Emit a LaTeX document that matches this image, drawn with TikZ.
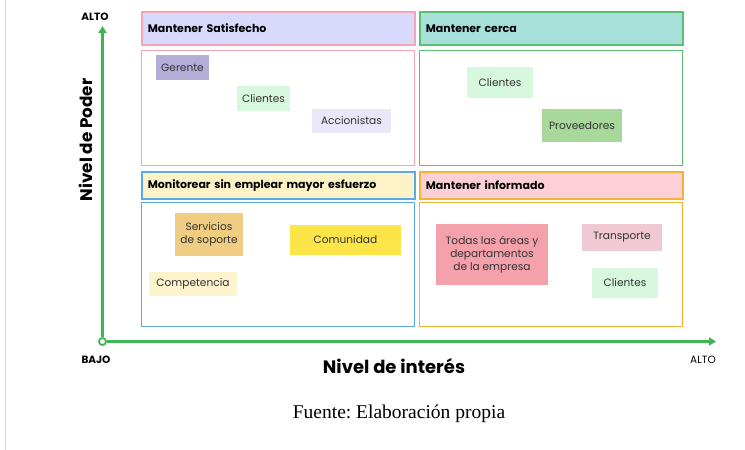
\documentclass[tikz,border=0pt]{standalone}
\usepackage{fontspec}
\setmainfont{Liberation Serif}
\newfontfamily\uisans{Poppins}
\usetikzlibrary{arrows.meta}
\frenchspacing
\definecolor{axisgreen}{HTML}{3DB552}
\definecolor{pinkline}{HTML}{F2A7B6}
\definecolor{greenline}{HTML}{5CC072}
\definecolor{blueline}{HTML}{5AAAE8}
\definecolor{orangeline}{HTML}{F5B233}
\definecolor{lavhead}{HTML}{D9D9FB}
\definecolor{tealhead}{HTML}{A6E0D9}
\definecolor{yellowhead}{HTML}{FDF3C6}
\definecolor{pinkhead}{HTML}{FDD0D8}
\definecolor{cGerente}{HTML}{B4ADD8}
\definecolor{cCliente}{HTML}{D8F8DD}
\definecolor{cAccion}{HTML}{E9E7F8}
\definecolor{cProv}{HTML}{A9D99A}
\definecolor{cServ}{HTML}{F0CD82}
\definecolor{cComun}{HTML}{FCE449}
\definecolor{cCompet}{HTML}{FDF4CD}
\definecolor{cTodas}{HTML}{F4A1AB}
\definecolor{cTrans}{HTML}{F0C9D4}
\definecolor{notetext}{HTML}{333333}
\tikzset{
  quadhead/.style={draw=#1, line width=1.6pt, anchor=north west, minimum height=33pt,
    text width=261pt, inner xsep=6pt, align=left, font=\uisans\bfseries\fontsize{11}{12}\selectfont, text=black},
  quadbody/.style={draw=#1, line width=1.3pt, fill=white, anchor=north west, inner sep=0pt},
  note/.style={fill=#1, inner sep=0pt, text=notetext, font=\uisans\fontsize{10.6}{13}\selectfont, align=center},
  axislabel/.style={font=\uisans\bfseries\fontsize{10.5}{11}\selectfont, text=black},
}
\begin{document}
\begin{tikzpicture}[x=1pt,y=-1pt]
\useasboundingbox (0,0) rectangle (745,450);
\fill[white] (0,0) rectangle (745,450);
\coordinate (gt) at (5.5,0);
\coordinate (gb) at (5.5,450);
\draw[black!15, line width=1pt] (gt) -- (gb);

% quadrant headers
\node[quadhead=pinkline, fill=lavhead, text width=261pt] (h1) at (141,11) {Mantener Satisfecho};
\node[quadhead=greenline, fill=tealhead, text width=251pt] (h2) at (419,11) {Mantener cerca};
\node[quadhead=blueline, fill=yellowhead, text width=261pt, minimum height=27pt] (h3) at (141,171) {Monitorear sin emplear mayor esfuerzo};
\node[quadhead=orangeline, fill=pinkhead, text width=251pt, minimum height=27pt] (h4) at (419,171) {Mantener informado};

% quadrant bodies
\node[quadbody=pinkline, minimum width=273pt, minimum height=115pt] (b1) at (141,50) {};
\node[quadbody=greenline, minimum width=263pt, minimum height=115pt] (b2) at (419,50) {};
\node[quadbody=blueline, minimum width=273pt, minimum height=124pt] (b3) at (141,202) {};
\node[quadbody=orangeline, minimum width=263pt, minimum height=124pt] (b4) at (419,202) {};

% notes
\node[note=cGerente, minimum width=53pt, minimum height=25pt] (n1) at (182.5,67.5) {Gerente};
\node[note=cCliente, minimum width=53pt, minimum height=25pt] (n2) at (263.5,98.5) {Clientes};
\node[note=cAccion, minimum width=79pt, minimum height=24pt] (n3) at (351.5,121) {Accionistas};
\node[note=cCliente, minimum width=66pt, minimum height=31pt] (n4) at (500,82.5) {Clientes};
\node[note=cProv, minimum width=80pt, minimum height=33pt] (n5) at (582,125.5) {Proveedores};
\node[note=cServ, minimum width=68pt, minimum height=43pt] (n6) at (209,234.5) {Servicios\\de soporte};
\node[note=cComun, minimum width=111pt, minimum height=30pt] (n7) at (345.5,240) {Comunidad};
\node[note=cCompet, minimum width=88pt, minimum height=24pt] (n8) at (193,284) {Competencia};
\node[note=cTodas, minimum width=112pt, minimum height=61pt] (n9) at (492,254.5) {Todas las áreas y\\departamentos\\de la empresa};
\node[note=cTrans, minimum width=80pt, minimum height=27pt] (n10) at (622,237.5) {Transporte};
\node[note=cCliente, minimum width=66pt, minimum height=30pt] (n11) at (625,283) {Clientes};

% axes
\coordinate (ytop) at (102.5,26);
\coordinate (xend) at (716,341.5);
\node[circle, draw=axisgreen, fill=white, line width=1.8pt, minimum size=7pt, inner sep=0pt] (o) at (102.5,341.5) {};
\draw[axisgreen, line width=2.2pt, -{Triangle[length=7pt,width=8pt]}] (o.north) -- (ytop);
\draw[axisgreen, line width=2.2pt, -{Triangle[length=7pt,width=8pt]}] (o.east) -- (xend);

% axis labels
\node[axislabel] (altoy) at (95,17) {ALTO};
\node[axislabel] (bajo) at (96,360) {BAJO};
\node[axislabel, font=\uisans\fontsize{10.5}{11}\selectfont] (altox) at (703,360) {ALTO};
\node[font=\uisans\bfseries\fontsize{16.8}{18}\selectfont, rotate=90] (ypod) at (86,140) {Nivel de Poder};
\node[font=\uisans\bfseries\fontsize{18}{20}\selectfont] (xint) at (394,366) {Nivel de interés};
\node[font=\fontsize{19.5}{21}\selectfont] (fuente) at (399,414) {Fuente: Elaboración propia};
\end{tikzpicture}
\end{document}
